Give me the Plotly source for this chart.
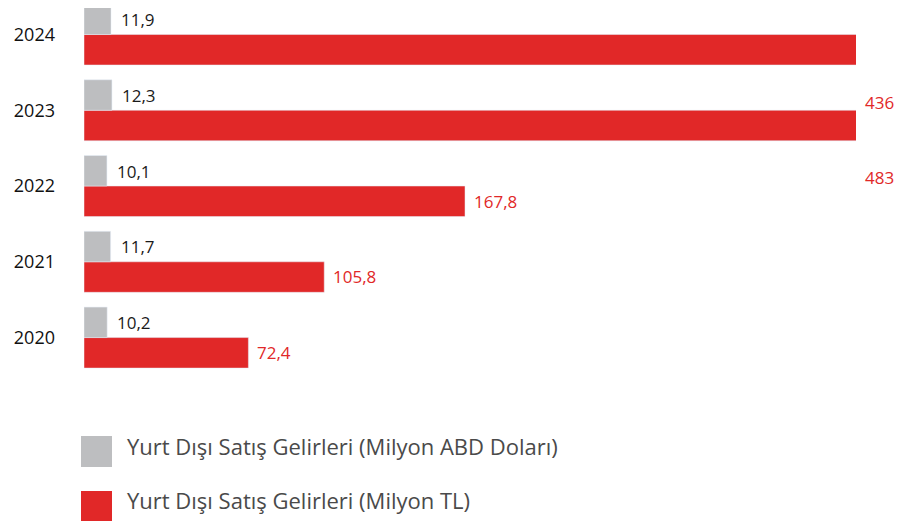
import plotly.graph_objects as go

years = ["2020", "2021", "2022", "2023", "2024"]
usd_values = [10.2, 11.7, 10.1, 12.3, 11.9]
tl_values = [72.4, 105.8, 167.8, 436, 483]
usd_labels = ["10,2", "11,7", "10,1", "12,3", "11,9"]
tl_labels = ["72,4", "105,8", "167,8", "436", "483"]
legend_names = ["Yurt Dışı Satış Gelirleri (Milyon ABD Doları)",
                "Yurt Dışı Satış Gelirleri (Milyon TL)"]

GRAY = "#BDBEC0"
RED = "#E12828"
FONT = "Open Sans"
XMAX = 340.0

fig = go.Figure()
fig.add_trace(go.Bar(
    y=years, x=tl_values, orientation="h", marker_color=RED,
    name=legend_names[1], showlegend=False, hoverinfo="x+y",
))
fig.add_trace(go.Bar(
    y=years, x=usd_values, orientation="h", marker_color=GRAY,
    name=legend_names[0], showlegend=False, hoverinfo="x+y",
))

# value labels (category index positions)
for i, yr in enumerate(years):
    fig.add_annotation(x=usd_values[i], y=i, text=usd_labels[i],
                       showarrow=False, xanchor="left", yanchor="middle",
                       xshift=8, yshift=15,
                       font=dict(color="#1a1a1a", size=17, family=FONT))
    if tl_values[i] <= XMAX:
        fig.add_annotation(x=tl_values[i], y=i, text=tl_labels[i],
                           showarrow=False, xanchor="left", yanchor="middle",
                           xshift=7, yshift=-15,
                           font=dict(color=RED, size=17, family=FONT))

# labels of the clipped bars, positioned as in the reference
fig.add_annotation(xref="paper", x=1.009, y=3.109, text=tl_labels[3],
                   showarrow=False, xanchor="left", yanchor="middle",
                   font=dict(color=RED, size=17, family=FONT))
fig.add_annotation(xref="paper", x=1.009, y=2.119, text=tl_labels[4],
                   showarrow=False, xanchor="left", yanchor="middle",
                   font=dict(color=RED, size=17, family=FONT))

# custom legend (page pixel -> paper coords; plot spans page y 8..400, x 84..856)
def py(p):
    return (400.0 - p) / 392.0
def px(p):
    return (p - 84.0) / 772.0

for (y0, y1, col, name, ty) in [(436, 467, GRAY, legend_names[0], 446),
                                (491, 521, RED, legend_names[1], 500)]:
    fig.add_shape(type="rect", xref="paper", yref="paper",
                  x0=px(81), x1=px(112), y0=py(y1), y1=py(y0),
                  fillcolor=col, line_width=0)
    fig.add_annotation(xref="paper", yref="paper", x=px(125), y=py(ty),
                       text=name, showarrow=False, xanchor="left",
                       yanchor="middle",
                       font=dict(color="#4a4a4a", size=22, family=FONT))

fig.update_layout(
    width=909, height=521,
    margin=dict(l=76, r=61, t=0, b=129, autoexpand=False),
    barmode="group", bargap=0.195, bargroupgap=0,
    plot_bgcolor="white", paper_bgcolor="white",
    font=dict(family=FONT),
    showlegend=False,
)
fig.update_xaxes(range=[0, XMAX], visible=False, showgrid=False,
                 automargin=False)
fig.update_yaxes(type="category", categoryorder="array", categoryarray=years,
                 range=[-0.824, 4.35], showgrid=False, zeroline=False,
                 showline=False, ticks="", ticklabelstandoff=28,
                 automargin=False,
                 tickfont=dict(size=18, color="#111111", family=FONT,
                               weight=500))

fig.write_html("out.html")
